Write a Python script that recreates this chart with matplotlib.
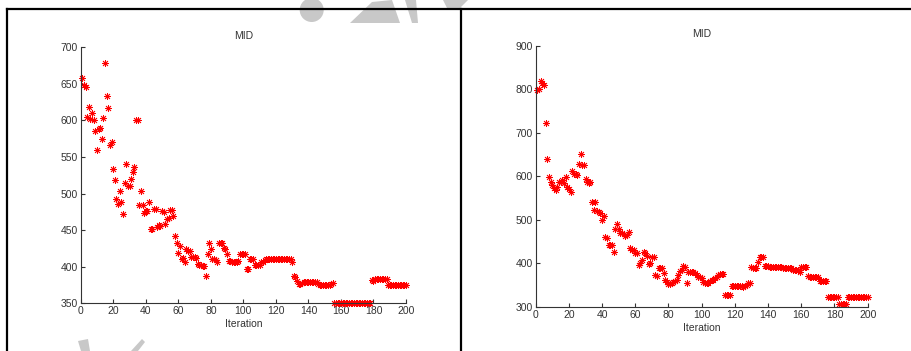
import numpy as np
import matplotlib
matplotlib.use('Agg')
import matplotlib.pyplot as plt
from matplotlib.lines import Line2D
from matplotlib.patches import Ellipse, Polygon

plt.rcParams['font.family'] = ['Liberation Sans', 'DejaVu Sans']

# MID per iteration, left run
mid_left = (
    [658, 648, 646, 605, 618, 602, 610, 601, 586, 560,
     588, 589, 574, 604, 679, 634, 617, 566, 570, 533,
     519, 493, 486, 504, 489, 472, 514, 541, 510, 511,
     520, 529, 537, 600, 601, 484, 504, 484, 474, 476,
     476, 488, 451, 452, 479, 479, 455, 457, 456, 476,
     475, 458, 465, 466, 478, 477, 469, 442, 432, 419,
     429, 410, 412, 406, 424, 422, 422, 413, 413, 413,
     412, 404, 403, 402, 401, 401, 387, 417, 432, 424,
     411, 410, 409, 407, 433, 433, 433, 426, 424, 417,
     408, 408, 407, 407, 407, 407, 408, 417, 417, 418,
     417, 397, 397, 411, 411, 411, 402, 402, 402, 403,
     406, 406, 409, 411]
    + [411] * 14
    + [410, 406, 387, 386, 380, 376, 376, 378]
    + [379] * 9
    + [377]
    + [375] * 7
    + [377, 378]
    + [351] * 23
    + [382, 381]
    + [383] * 8
    + [375] * 12
)

# MID per iteration, right run
mid_right = (
    [798, 800, 820, 815, 810, 722, 639, 599, 586, 580,
     573, 569, 576, 586, 586, 592, 584, 599, 576, 570,
     563, 613, 605, 605, 603, 628, 651, 627, 627, 595,
     586, 584, 588, 542, 523, 542, 521, 517, 515, 500,
     509, 460, 458, 443, 443, 443, 427, 478, 491, 478,
     469, 469, 468, 463, 465, 473, 435, 431, 431, 425,
     423, 396, 400, 408, 427, 425, 417, 399, 402, 414,
     414, 373, 371, 389, 390, 389, 377, 362, 358, 352,
     353, 354, 358, 360, 362, 373, 383, 385, 393, 392,
     356, 381, 381, 381, 381, 378, 373, 368, 370, 366,
     358, 356, 354, 356, 360, 361, 362, 366, 368, 373,
     375, 376, 375, 328, 328, 328, 328, 348]
    + [348] * 6
    + [345, 348, 351, 354, 355, 392, 389, 389, 389, 404,
       414, 414, 414, 394, 394, 393]
    + [392] * 8
    + [390] * 6
    + [386] * 4
    + [381, 392, 392, 392, 392, 371]
    + [370] * 6
    + [359] * 5
    + [323] * 7
    + [308] * 5
    + [322] * 13
)

iters_left = np.arange(1, len(mid_left) + 1)
iters_right = np.arange(1, len(mid_right) + 1)

fig = plt.figure(figsize=(9.12, 3.51), dpi=100)


def draw_panel(rect, x, y, ylim, yticks):
    ax = fig.add_axes(rect)
    ax.plot(x, y, linestyle='none', marker=(8, 2, 0), markersize=5,
            markeredgewidth=0.6, color='red', clip_on=False)
    ax.set_xlim(0, 200)
    ax.set_ylim(*ylim)
    ax.set_xticks(np.arange(0, 201, 20))
    ax.set_yticks(yticks)
    for s in ['top', 'right']:
        ax.spines[s].set_visible(False)
    for s in ['left', 'bottom']:
        ax.spines[s].set_color('#333333')
        ax.spines[s].set_linewidth(0.8)
    ax.tick_params(direction='in', length=3, width=0.8, labelsize=7.5,
                   colors='#333333', pad=2)
    ax.set_title('MID', fontsize=7.5, color='#333333', pad=6)
    ax.set_xlabel('Iteration', fontsize=7.5, color='#333333', labelpad=2)
    ax.patch.set_alpha(0)
    return ax


draw_panel([0.0885, 0.1359, 0.3567, 0.7293], iters_left, mid_left,
           (350, 700), np.arange(350, 701, 50))
draw_panel([0.5874, 0.1254, 0.364, 0.7444], iters_right, mid_right,
           (300, 900), np.arange(300, 901, 100))

# faint grey watermark shapes behind everything
W, H = 912.0, 351.0
grey = '#c8c8c8'
fig.add_artist(Ellipse((311.7 / W, 1 - 10 / H), 24 / W, 24 / H,
                       transform=fig.transFigure, facecolor=grey,
                       edgecolor='none', zorder=-1))
shapes = [
    [(350, 23), (372, 2), (392, 0), (400, 23)],
    [(405, 0), (416, 0), (418, 23), (412, 23)],
    [(443, 0), (468, 0), (460, 8), (448, 10)],
    [(78, 341), (88, 339), (90, 351), (81, 351)],
    [(131, 351), (142, 339), (145, 342), (138, 351)],
]
for pts in shapes:
    fig.add_artist(Polygon([(px / W, 1 - py / H) for px, py in pts], closed=True,
                           transform=fig.transFigure, facecolor=grey,
                           edgecolor='none', zorder=-1))

# black frame lines
for xs, ys in [((7, 912), (9, 9)), ((7, 7), (9, 351)), ((461, 461), (9, 351))]:
    fig.add_artist(Line2D([v / W for v in xs], [1 - v / H for v in ys],
                          transform=fig.transFigure, color='black', linewidth=1.6))

fig.savefig('out.png', dpi=100)
